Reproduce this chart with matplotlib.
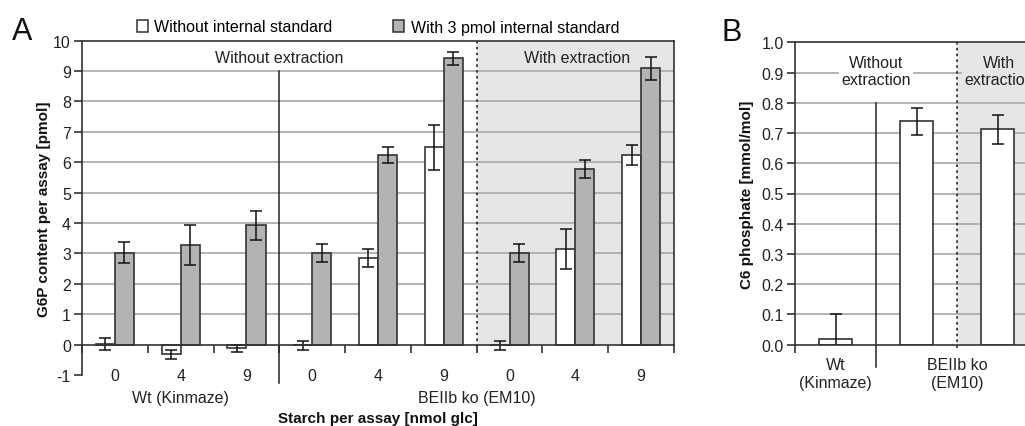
import numpy as np
import matplotlib.pyplot as plt
from matplotlib.patches import Patch
from matplotlib.transforms import blended_transform_factory

plt.rcParams['font.family'] = ['Liberation Sans', 'DejaVu Sans']
plt.rcParams['font.size'] = 11
plt.rcParams['axes.unicode_minus'] = False

# Panel A: G6P per assay, 3 starch amounts x 3 sample groups
starch = ['0', '4', '9', '0', '4', '9', '0', '4', '9']
no_std = [0.02, -0.32, -0.12, -0.02, 2.84, 6.49, -0.02, 3.15, 6.24]
no_std_err = [0.19, 0.14, 0.11, 0.15, 0.29, 0.73, 0.15, 0.66, 0.33]
with_std = [3.02, 3.28, 3.93, 3.02, 6.24, 9.42, 3.02, 5.78, 9.10]
with_std_err = [0.35, 0.67, 0.48, 0.29, 0.25, 0.22, 0.29, 0.29, 0.38]
groups_a = ['Wt (Kinmaze)', 'BEIIb ko (EM10)']

# Panel B: C6 phosphate
samples_b = ['Wt\n(Kinmaze)', 'BEIIb ko\n(EM10)']
c6 = [0.02, 0.739, 0.712]
c6_err = [0.08, 0.045, 0.048]

edge = '#333333'
grey = '#b3b3b3'
shade = '#e6e6e6'
gridc = '#a8a8a8'
W, H = 1025, 427

fig = plt.figure(figsize=(W / 100, H / 100), dpi=100)

# ---------------- panel A ----------------
ax = fig.add_axes([82 / W, 1 - 376 / H, 592 / W, 334.3 / H])
x = np.arange(len(starch)) + 0.5
bw = 0.29
ax.fill_between([6, 9], 0, 10, color=shade, lw=0, zorder=0)
for v in range(1, 10):
    ax.axhline(v, color=gridc, lw=1.2, zorder=1)
ax.bar(x - bw / 2, no_std, bw, color='white', edgecolor=edge, lw=1.2, zorder=3)
ax.bar(x + bw / 2, with_std, bw, color=grey, edgecolor=edge, lw=1.2, zorder=3)
ax.errorbar(x - bw / 2, no_std, yerr=no_std_err, fmt='none', ecolor='#111111',
            elinewidth=1.1, capsize=4, capthick=1.1, zorder=4)
ax.errorbar(x + bw / 2, with_std, yerr=with_std_err, fmt='none', ecolor='#111111',
            elinewidth=1.1, capsize=4, capthick=1.1, zorder=4)

ax.set_xlim(0, 9)
ax.set_ylim(-1, 10)
ax.set_yticks(range(-1, 11))
ax.set_xticks(x)
ax.set_xticklabels(starch)
ax.set_xticks(range(0, 10), minor=True)
ax.tick_params(axis='x', which='major', length=0, pad=17, labelsize=11.5, colors='#222222')
ax.tick_params(axis='x', which='minor', length=6, width=1.2, color=edge, direction='out')
ax.tick_params(axis='y', length=6, width=1.2, color=edge, pad=2, labelsize=11.5, colors='#222222')
ax.spines['bottom'].set_position(('data', 0))
ax.spines['right'].set_bounds(0, 10)
for s in ax.spines.values():
    s.set_color(edge)
    s.set_linewidth(1.2)
    s.set_zorder(5)

# dividers between sample groups
ax.plot([3, 3], [9, -1.25], color='#222222', lw=1.1, clip_on=False, zorder=5)
ax.plot([6, 6], [10, -0.2], color='#222222', lw=1.2, ls=(0, (1.5, 2)), clip_on=False, zorder=5)
ax.text(3, 9.46, 'Without extraction', ha='center', va='center', fontsize=11.5, color='#222222')
ax.text(7.52, 9.46, 'With extraction', ha='center', va='center', fontsize=11.5, color='#222222')

tr = blended_transform_factory(ax.transData, ax.transAxes)
ax.text(1.5, (376 - 399) / 334.3, groups_a[0], transform=tr, ha='center', va='center',
        fontsize=11.5, color='#222222')
ax.text(6.0, (376 - 399) / 334.3, groups_a[1], transform=tr, ha='center', va='center',
        fontsize=11.5, color='#222222')
ax.text(4.5, (376 - 419) / 334.3, 'Starch per assay [nmol glc]', transform=tr,
        ha='center', va='center', fontsize=11, fontweight='bold', color='#111111')
ax.set_ylabel('G6P content per assay [pmol]', fontsize=11, fontweight='bold', color='#111111')
ax.yaxis.set_label_coords((51 - 82) / 592, 0.5)

fig.legend(handles=[Patch(facecolor='white', edgecolor=edge, lw=1.1, label='Without internal standard'),
                    Patch(facecolor=grey, edgecolor=edge, lw=1.1, label='With 3 pmol internal standard')],
           loc='center', bbox_to_anchor=(378 / W, 1 - 28 / H), ncol=2, frameon=False,
           handlelength=0.7, handleheight=0.7, handletextpad=0.4, columnspacing=3.8,
           fontsize=11.5, borderpad=0)

# ---------------- panel B ----------------
bx = fig.add_axes([795 / W, 1 - 345.7 / H, 243 / W, 302.4 / H])
xb = np.arange(len(c6)) + 0.5
bx.fill_between([2, 3], 0, 1, color=shade, lw=0, zorder=0)
for v in np.arange(1, 10) / 10:
    bx.axhline(v, color=gridc, lw=1.2, zorder=1)
bx.bar(xb, c6, 0.4, color='white', edgecolor=edge, lw=1.2, zorder=3)
bx.errorbar(xb, c6, yerr=c6_err, fmt='none', ecolor='#111111', elinewidth=1.1,
            capsize=4, capthick=1.1, zorder=4)
bx.set_xlim(0, 3)
bx.set_ylim(0, 1)
bx.set_yticks(np.arange(0, 11) / 10)
bx.set_yticklabels([f'{v:.1f}' for v in np.arange(0, 11) / 10])
bx.set_xticks([0.5, 2.0])
bx.set_xticklabels(samples_b)
bx.set_xticks([0, 2], minor=True)
bx.tick_params(axis='x', which='major', length=0, pad=9, labelsize=11.5, colors='#222222')
bx.tick_params(axis='x', which='minor', length=6, width=1.2, color=edge, direction='out')
bx.tick_params(axis='y', length=6, width=1.2, color=edge, pad=2, labelsize=11.5, colors='#222222')
bx.spines['right'].set_visible(False)
for s in bx.spines.values():
    s.set_color(edge)
    s.set_linewidth(1.2)
    s.set_zorder(5)

bx.plot([1, 1], [0.8, -0.073], color='#222222', lw=1.1, clip_on=False, zorder=5)
bx.plot([2, 2], [1, -0.02], color='#222222', lw=1.2, ls=(0, (1.5, 2)), clip_on=False, zorder=5)
bx.text(1.0, 0.905, 'Without\nextraction', ha='center', va='center', fontsize=11.5,
        color='#222222', linespacing=1.15, zorder=2,
        bbox=dict(facecolor='white', edgecolor='none', pad=2))
bx.text(2.52, 0.905, 'With\nextraction', ha='center', va='center', fontsize=11.5,
        color='#222222', linespacing=1.15, zorder=2,
        bbox=dict(facecolor=shade, edgecolor='none', pad=2))
bx.set_ylabel('C6 phosphate [mmol/mol]', fontsize=11, fontweight='bold', color='#111111')
bx.yaxis.set_label_coords((754 - 795) / 243, 0.5)

fig.text(22 / W, 1 - 32 / H, 'A', fontsize=22, ha='center', va='center', color='#111111')
fig.text(732 / W, 1 - 33 / H, 'B', fontsize=22, ha='center', va='center', color='#111111')

fig.savefig('out.png', dpi=100)
